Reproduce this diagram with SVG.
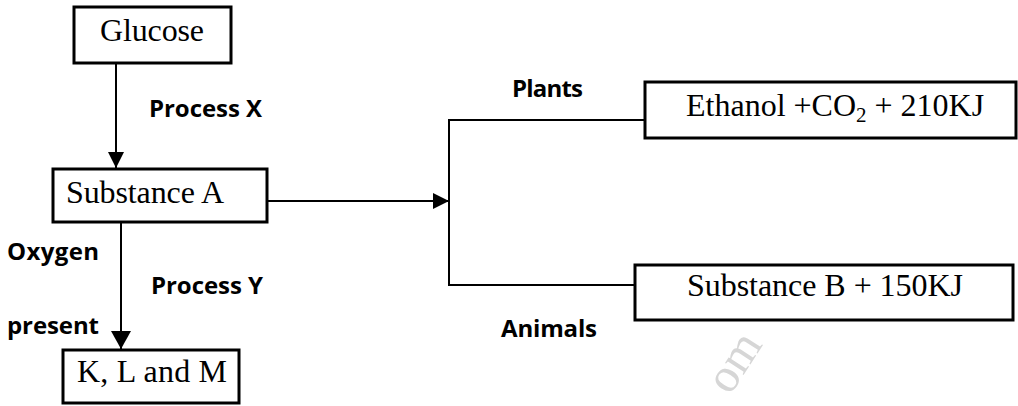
<svg xmlns="http://www.w3.org/2000/svg" width="1018" height="406" viewBox="0 0 1018 406">
  <style>
    .box { fill: #fff; stroke: #000; stroke-width: 3; }
    .lbl { font-family: "Liberation Serif", "Times New Roman", serif; font-size: 32px; fill: #000; }
    .bold { font-family: "Open Sans", "Liberation Sans", sans-serif; font-weight: bold; font-size: 24px; fill: #000; }
    .conn { fill: none; stroke: #000; stroke-width: 2; }
    .wm { font-family: "Liberation Serif", serif; font-size: 48px; fill: #d6d6d6; }
  </style>
  <defs>
    <marker id="arrow" viewBox="0 0 16 16" markerWidth="16" markerHeight="16" refX="16" refY="8" orient="auto" markerUnits="userSpaceOnUse">
      <path d="M0 0 L16 8 L0 16 Z" fill="#000"/>
    </marker>
    <marker id="arrowL" viewBox="0 0 18 20" markerWidth="18" markerHeight="20" refX="18" refY="10" orient="auto" markerUnits="userSpaceOnUse">
      <path d="M0 0 L18 10 L0 20 Z" fill="#000"/>
    </marker>
  </defs>
  <rect width="1018" height="406" fill="#fff"/>
  <text class="wm" x="730" y="396" transform="rotate(-57 730 396)">om</text>

  <g id="connectors">
    <path class="conn" d="M116 63 V168" marker-end="url(#arrow)"/>
    <path class="conn" d="M121 222 V349" marker-end="url(#arrowL)"/>
    <path class="conn" d="M267 201 H449" marker-end="url(#arrow)"/>
    <path class="conn" d="M645 120 H449 V285 H635"/>
  </g>

  <g id="glucose">
    <rect class="box" x="74" y="7" width="157" height="56"/>
    <text class="lbl" x="100" y="41" textLength="104">Glucose</text>
  </g>
  <g id="substance-a">
    <rect class="box" x="53" y="169" width="214" height="53"/>
    <text class="lbl" x="66" y="203" textLength="158">Substance A</text>
  </g>
  <g id="klm">
    <rect class="box" x="63" y="350" width="176" height="53"/>
    <text class="lbl" x="77" y="382" textLength="150">K, L and M</text>
  </g>
  <g id="ethanol">
    <rect class="box" x="645" y="82" width="371" height="56"/>
    <text class="lbl" x="686" y="116">Ethanol +CO<tspan font-size="21" dy="6">2</tspan><tspan dy="-6"> + 210KJ</tspan></text>
  </g>
  <g id="substance-b">
    <rect class="box" x="635" y="265" width="378" height="55"/>
    <text class="lbl" x="687" y="296" textLength="276">Substance B + 150KJ</text>
  </g>

  <g id="labels">
    <text class="bold" x="149" y="117" textLength="113">Process X</text>
    <text class="bold" x="7" y="260" textLength="92">Oxygen</text>
    <text class="bold" x="7" y="334" textLength="92">present</text>
    <text class="bold" x="151" y="294" textLength="112">Process Y</text>
    <text class="bold" x="512" y="97" textLength="71">Plants</text>
    <text class="bold" x="501" y="337" textLength="96">Animals</text>
  </g>
</svg>
